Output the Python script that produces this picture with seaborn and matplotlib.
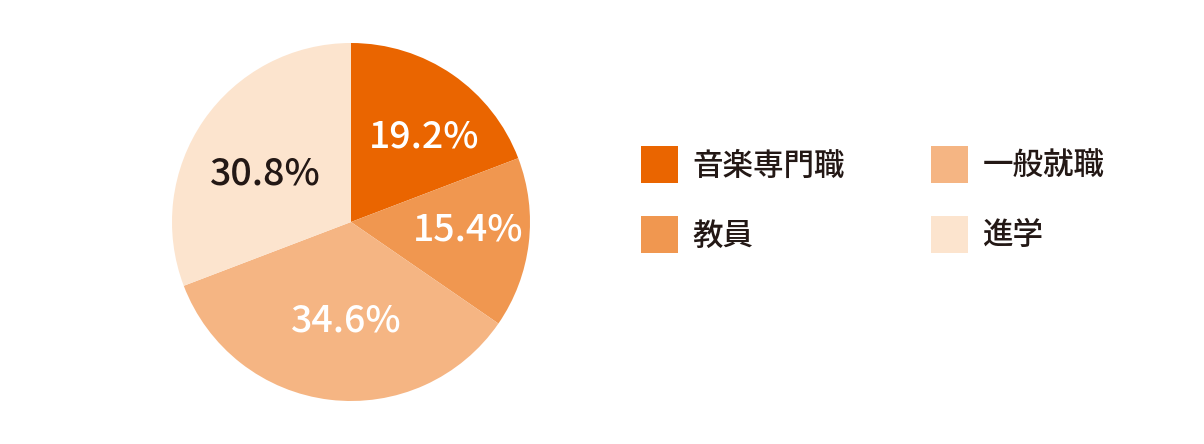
import matplotlib
matplotlib.use("Agg")
import numpy as np
import matplotlib.pyplot as plt
import seaborn as sns

# Data
categories = ["音楽専門職", "教員", "一般就職", "進学"]
shares = [19.2, 15.4, 34.6, 30.8]
colors = ["#EA6500", "#F09750", "#F5B583", "#FCE4CE"]
label_colors = ["white", "white", "white", "#231815"]

# label placement: distance from centre (radius units) and angle nudge (deg)
label_dist = [0.63, 0.655, 0.55, 0.55]
label_nudge = [-6, 3, 4, 5]

sns.set_theme(style="white")
plt.rcParams['font.family'] = ['Noto Sans CJK JP', 'DejaVu Sans']

W, H = 1204, 444
fig = plt.figure(figsize=(W / 100, H / 100), dpi=100)
fig.patch.set_facecolor("white")

# pie centre (351, 222), radius 179 px
cx, cy, r = 351, 222, 179
ax = fig.add_axes([(cx - r) / W, (H - cy - r) / H, 2 * r / W, 2 * r / H])

wedges, texts, autotexts = ax.pie(
    shares,
    colors=colors,
    startangle=90,
    counterclock=False,
    autopct=lambda p: f"{p:.1f}%",
    pctdistance=0.6,
    wedgeprops=dict(linewidth=0),
    textprops=dict(fontsize=27, fontweight="medium"),
)
for w, t, c, d, n in zip(wedges, autotexts, label_colors, label_dist, label_nudge):
    ang = np.deg2rad((w.theta1 + w.theta2) / 2 + n)
    t.set_position((d * np.cos(ang), d * np.sin(ang)))
    t.set_color(c)
ax.set_xlim(-1, 1)
ax.set_ylim(-1, 1)
ax.set_aspect("equal")

fig.legend(
    wedges, categories,
    loc="upper left",
    bbox_to_anchor=(641 / W, 1 - 146 / H),
    ncol=2,
    frameon=False,
    prop=dict(size=22, weight="medium"),
    handlelength=1.21,
    handleheight=1.48,
    handletextpad=0.46,
    columnspacing=2.84,
    labelspacing=1.08,
    borderpad=0,
    borderaxespad=0,
    labelcolor="#231815",
)

fig.savefig("out.png", dpi=100)
